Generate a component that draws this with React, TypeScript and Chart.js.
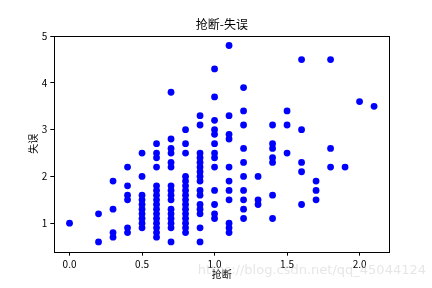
import { useEffect, useRef } from "react";
import { Chart, registerables } from "chart.js";

Chart.register(...registerables);

const chartTitle = "抢断-失误";
const xLabel = "抢断";
const yLabel = "失误";
const watermark = "https://blog.csdn.net/qq_45044124";

const xTicks = [0.0, 0.5, 1.0, 1.5, 2.0];
const yTicks = [1, 2, 3, 4, 5];

// steals (抢断) and turnovers (失误), paired by index
const steals = [
  0.0,
  0.2, 0.2,
  0.3, 0.3, 0.3, 0.3,
  0.4, 0.4, 0.4, 0.4, 0.4, 0.4,
  0.5, 0.5, 0.5, 0.5, 0.5, 0.5, 0.5, 0.5, 0.5, 0.5,
  0.6, 0.6, 0.6, 0.6, 0.6, 0.6, 0.6, 0.6, 0.6, 0.6, 0.6, 0.6, 0.6, 0.6, 0.6, 0.6,
  0.7, 0.7, 0.7, 0.7, 0.7, 0.7, 0.7, 0.7, 0.7, 0.7, 0.7, 0.7, 0.7, 0.7, 0.7, 0.7,
  0.8, 0.8, 0.8, 0.8, 0.8, 0.8, 0.8, 0.8, 0.8, 0.8, 0.8, 0.8, 0.8, 0.8, 0.8, 0.8,
  0.9, 0.9, 0.9, 0.9, 0.9, 0.9, 0.9, 0.9, 0.9, 0.9, 0.9, 0.9, 0.9, 0.9, 0.9, 0.9,
  1.0, 1.0, 1.0, 1.0, 1.0, 1.0, 1.0, 1.0, 1.0, 1.0, 1.0, 1.0, 1.0,
  1.1, 1.1, 1.1, 1.1, 1.1, 1.1, 1.1, 1.1, 1.1, 1.1, 1.1,
  1.2, 1.2, 1.2, 1.2, 1.2, 1.2, 1.2, 1.2, 1.2, 1.2,
  1.3, 1.3, 1.3,
  1.4, 1.4, 1.4, 1.4, 1.4, 1.4, 1.4,
  1.5, 1.5, 1.5,
  1.6, 1.6, 1.6, 1.6, 1.6,
  1.7, 1.7, 1.7,
  1.8, 1.8, 1.8,
  1.9,
  2.0,
  2.1,
];

const turnovers = [
  1.0,
  1.2, 0.6,
  1.9, 1.3, 0.8, 0.7,
  2.2, 1.8, 1.6, 1.5, 0.9, 0.8,
  2.5, 2.0, 1.6, 1.5, 1.4, 1.3, 1.2, 1.1, 1.0, 0.9,
  2.7, 2.5, 2.4, 2.2, 1.8, 1.7, 1.6, 1.5, 1.4, 1.3, 1.2, 1.1, 1.0, 0.9, 0.8, 0.7,
  3.8, 2.8, 2.6, 2.5, 2.3, 2.2, 1.8, 1.7, 1.6, 1.5, 1.3, 1.2, 1.1, 1.0, 0.9, 0.6,
  3.0, 2.7, 2.5, 2.0, 1.9, 1.8, 1.7, 1.6, 1.5, 1.4, 1.3, 1.2, 1.1, 1.0, 0.9, 0.8,
  3.3, 3.1, 2.5, 2.4, 2.3, 2.2, 2.1, 2.0, 1.9, 1.7, 1.6, 1.4, 1.3, 1.2, 0.9, 0.6,
  4.3, 3.7, 3.2, 3.0, 2.9, 2.7, 2.5, 2.4, 2.2, 1.7, 1.4, 1.2, 1.1,
  4.8, 3.3, 2.9, 2.8, 2.2, 1.9, 1.7, 1.5, 1.0, 0.9, 0.8,
  3.9, 3.4, 3.1, 2.6, 2.3, 2.0, 1.7, 1.5, 1.3, 1.1,
  2.0, 1.5, 1.4,
  3.1, 2.7, 2.6, 2.4, 2.3, 1.6, 1.1,
  3.4, 3.1, 2.5,
  4.5, 3.0, 2.3, 2.1, 1.4,
  1.9, 1.7, 1.5,
  4.5, 2.6, 2.2,
  2.2,
  3.6,
  3.5,
];

const FONT = "'Noto Sans CJK SC', 'DejaVu Sans', sans-serif";

const framePlugin = {
  id: "frame",
  afterDatasetsDraw(chart: any) {
    const { ctx, chartArea } = chart;
    ctx.save();
    ctx.strokeStyle = "#000";
    ctx.lineWidth = 1;
    const l = Math.round(chartArea.left) + 0.5;
    const t = Math.round(chartArea.top) + 0.5;
    const r = Math.round(chartArea.right) + 0.5;
    const b = Math.round(chartArea.bottom) + 0.5;
    ctx.strokeRect(l, t, r - l, b - t);
    ctx.restore();
  },
  afterDraw(chart: any) {
    const { ctx } = chart;
    ctx.save();
    ctx.font = "13px 'DejaVu Sans', sans-serif";
    ctx.fillStyle = "rgba(200,200,200,0.45)";
    ctx.textAlign = "right";
    ctx.textBaseline = "middle";
    ctx.fillText(watermark, 426, 271);
    ctx.restore();
  },
};

export default function App() {
  const ref = useRef<HTMLCanvasElement>(null);

  useEffect(() => {
    if (!ref.current) return;
    const points = steals.map((x, i) => ({ x, y: turnovers[i] }));
    const chart = new Chart(ref.current, {
      type: "scatter",
      data: {
        datasets: [
          {
            data: points,
            backgroundColor: "#0000ff",
            borderColor: "#0000ff",
            borderWidth: 0,
            pointRadius: 3.4,
          },
        ],
      },
      plugins: [framePlugin],
      options: {
        responsive: false,
        animation: false,
        events: [],
        layout: { padding: { left: 0, top: 0, right: 42.7, bottom: 0 } },
        plugins: {
          legend: { display: false },
          tooltip: { enabled: false },
          title: {
            display: true,
            text: chartTitle,
            fullSize: false,
            color: "#000",
            font: { family: FONT, size: 12, weight: "normal" },
            padding: { top: 16.8, bottom: 4.5 },
          },
        },
        scales: {
          x: {
            type: "linear",
            min: -0.105,
            max: 2.205,
            afterBuildTicks: (s: any) => {
              s.ticks = xTicks.map((v) => ({ value: v }));
            },
            afterFit: (s: any) => {
              s.height = 36.3;
            },
            border: { display: false },
            grid: {
              drawOnChartArea: false,
              drawTicks: true,
              tickLength: 4,
              color: "#000",
            },
            ticks: {
              color: "#000",
              padding: 3,
              maxRotation: 0,
              font: { family: FONT, size: 10 },
              callback: (v: any) => Number(v).toFixed(1),
            },
            title: {
              display: true,
              text: xLabel,
              color: "#000",
              font: { family: FONT, size: 10 },
              padding: { top: 0, bottom: 7.5 },
            },
          },
          y: {
            type: "linear",
            min: 0.39,
            max: 5.01,
            afterBuildTicks: (s: any) => {
              s.ticks = yTicks.map((v) => ({ value: v }));
            },
            afterFit: (s: any) => {
              s.width = 54.3;
            },
            border: { display: false },
            grid: {
              drawOnChartArea: false,
              drawTicks: true,
              tickLength: 4,
              color: "#000",
            },
            ticks: {
              color: "#000",
              padding: 3,
              font: { family: FONT, size: 10 },
              callback: (v: any) => String(v),
            },
            title: {
              display: true,
              text: yLabel,
              color: "#000",
              font: { family: FONT, size: 10 },
              padding: { top: 27, bottom: 0 },
            },
          },
        },
      },
    });
    return () => chart.destroy();
  }, []);

  return (
    <div style={{ position: "fixed", left: 0, top: 0, width: 432, height: 288, background: "#fff" }}>
      <canvas ref={ref} width={432} height={288} style={{ display: "block" }} />
    </div>
  );
}
